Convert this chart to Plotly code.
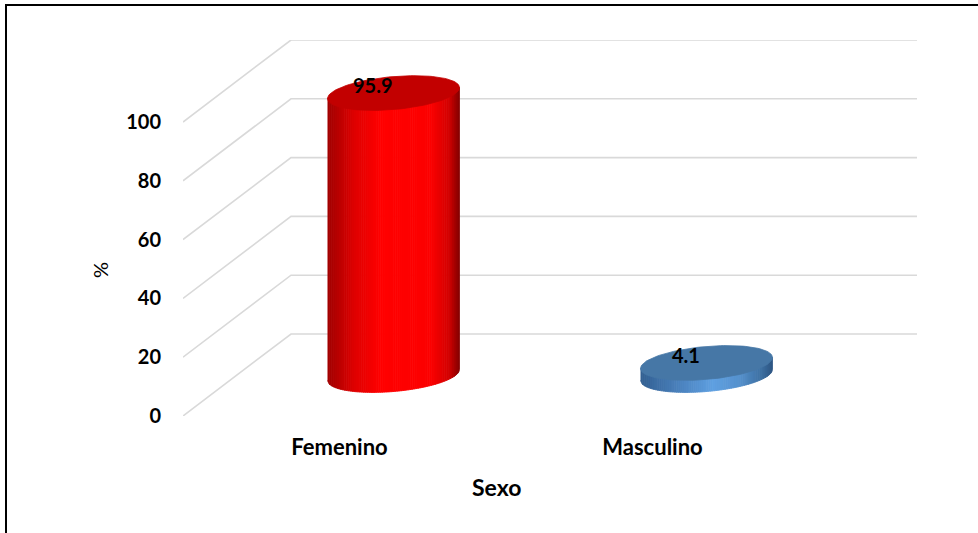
import numpy as np
import plotly.graph_objects as go

# ---- data ----
categories = ["Femenino", "Masculino"]
values = [95.9, 4.1]
value_labels = ["95.9", "4.1"]
y_ticks = [0, 20, 40, 60, 80, 100]
x_title = "Sexo"
y_title = "%"

# ---- layout geometry (pixels) ----
W, H = 978, 533
PLOT_L, PLOT_R, PLOT_T, PLOT_B = 183, 917, 40, 416
ML, MT = PLOT_L, PLOT_T
MR, MB = W - PLOT_R, H - PLOT_B
SX = 313.0            # px per category unit
SY = 2.94             # px per value unit
PW = W - ML - MR
PH = H - MT - MB
x_range = [-0.5, -0.5 + PW / SX]
y_range = [0, PH / SY]


def paper_x(px):
    return (px - PLOT_L) / PW


def paper_y(py):
    return (PLOT_B - py) / PH


DEPTH_DX = 108 / SX   # oblique depth offset in data units
DEPTH_DY = 82 / SY
MID_DX = DEPTH_DX / 2
MID_DY = DEPTH_DY / 2

fig = go.Figure()

# back wall gridlines + side diagonals
gx, gy = [], []
for v in y_ticks:
    gx += [x_range[0], x_range[0] + DEPTH_DX, x_range[1], None]
    gy += [v, v + DEPTH_DY, v + DEPTH_DY, None]
fig.add_trace(go.Scatter(x=gx, y=gy, mode="lines",
                         line=dict(color="#d9d9d9", width=1.6),
                         hoverinfo="skip", showlegend=False))


def interp(stops, t):
    ts = [s[0] for s in stops]
    cols = np.array([s[1] for s in stops], dtype=float)
    r = np.interp(t, ts, cols[:, 0])
    g = np.interp(t, ts, cols[:, 1])
    b = np.interp(t, ts, cols[:, 2])
    return "rgb(%d,%d,%d)" % (round(r), round(g), round(b))


side_stops = [
    [(0, (160, 0, 0)), (0.2, (222, 0, 0)), (0.4, (255, 0, 0)), (0.78, (252, 0, 0)),
     (0.92, (210, 0, 0)), (1, (130, 0, 0))],
    [(0, (50, 95, 145)), (0.3, (75, 130, 190)), (0.55, (95, 160, 225)), (0.75, (85, 145, 205)),
     (0.92, (60, 110, 160)), (1, (45, 85, 130))],
]
top_colors = ["rgb(194,0,0)", "rgb(70,119,166)"]

A_PX, B_PX, K = 66.0, 16.5, 11.0 / 132.0   # ellipse semi-axes and tilt
N = 70

for i, (cat, val) in enumerate(zip(categories, values)):
    cx = i + MID_DX
    base = MID_DY
    top = base + val

    def pt(u, sinpart, level):
        xo = A_PX * u
        yo = sinpart + K * xo
        return cx + xo / SX, level + yo / SY

    edges = np.linspace(-1, 1, N + 1)
    for j in range(N):
        u0, u1 = edges[j], min(edges[j + 1] + 0.006, 1)
        us = np.linspace(u0, u1, 4)
        xs, ys = [], []
        for u in us:
            x, y = pt(u, -B_PX * np.sqrt(max(0.0, 1 - u * u)), base)
            xs.append(x); ys.append(y)
        for u in us[::-1]:
            x, y = pt(u, 0.0, top)
            xs.append(x); ys.append(y)
        col = interp(side_stops[i], (j + 0.5) / N)
        fig.add_trace(go.Scatter(x=xs, y=ys, fill="toself", fillcolor=col, mode="lines",
                                 line=dict(color=col, width=0.8),
                                 hoverinfo="skip", showlegend=False))
    # top ellipse
    phi = np.linspace(0, 2 * np.pi, 121)
    ex, ey = [], []
    for p in phi:
        xo = A_PX * np.cos(p)
        yo = B_PX * np.sin(p) + K * xo
        ex.append(cx + xo / SX); ey.append(top + yo / SY)
    fig.add_trace(go.Scatter(x=ex, y=ey, fill="toself", fillcolor=top_colors[i], mode="lines",
                             line=dict(color=top_colors[i], width=0.8),
                             hoverinfo="skip", showlegend=False))
    # data label
    fig.add_annotation(x=cx - 21 / SX, y=top + 8 / SY, text="<b>%s</b>" % value_labels[i],
                       showarrow=False, xanchor="center", yanchor="middle",
                       font=dict(family="Lato", size=20, color="black"))

fig.add_annotation(x=0.5, xref="x", y=paper_y(487), yref="paper",
                   text="<b>%s</b>" % x_title, showarrow=False,
                   xanchor="center", yanchor="middle",
                   font=dict(family="Lato", size=23, color="black"))
fig.add_annotation(x=paper_x(100), xref="paper", y=paper_y(270), yref="paper",
                   text=y_title, textangle=-90, showarrow=False,
                   xanchor="center", yanchor="middle",
                   font=dict(family="Lato", size=20, color="black"))

# outer frame
fig.add_shape(type="rect", xref="paper", yref="paper",
              x0=paper_x(6), x1=paper_x(W + 20),
              y0=paper_y(H + 20), y1=paper_y(5),
              line=dict(color="black", width=2), layer="below")

fig.update_layout(
    width=W, height=H,
    margin=dict(l=ML, r=MR, t=MT, b=MB, pad=0),
    paper_bgcolor="white", plot_bgcolor="white",
    showlegend=False,
    font=dict(family="Lato", color="black"),
)
fig.update_xaxes(range=x_range, tickvals=[0, 1], ticktext=["<b>%s</b>" % c for c in categories],
                 showgrid=False, zeroline=False, showline=False, ticks="",
                 ticklabelstandoff=16, tickfont=dict(family="Lato", size=22, color="black"))
fig.update_yaxes(range=y_range, tickvals=y_ticks, ticktext=["<b>%d</b>" % v for v in y_ticks],
                 showgrid=False, zeroline=False, showline=False, ticks="",
                 ticklabelstandoff=21, tickfont=dict(family="Lato", size=20, color="black"))

fig.write_html("out.html", config={"displayModeBar": False},
               post_script="document.body.style.margin='0px';")
